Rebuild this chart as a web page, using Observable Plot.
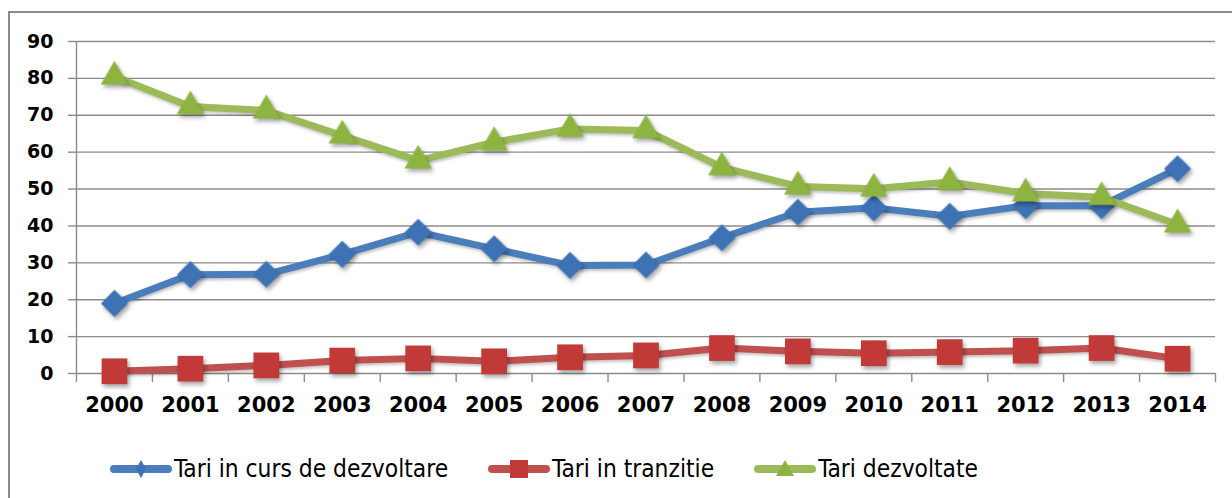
<!DOCTYPE html>
<html><head><meta charset="utf-8">
<script src="https://cdn.jsdelivr.net/npm/d3@7"></script>
<script src="https://cdn.jsdelivr.net/npm/@observablehq/plot@0.6"></script>
<style>
  html,body{margin:0;padding:0;background:#fff;width:1232px;height:498px;overflow:hidden;}
  #frame{position:absolute;left:8px;top:11px;width:1300px;height:600px;border:2px solid #8a8a8a;box-sizing:border-box;}
  #chart{position:absolute;left:0;top:0;}
  #chart svg{overflow:visible;}
  g[aria-label="dot"]{filter:drop-shadow(2px 3px 2px rgba(0,0,0,0.35));}
  g[aria-label="line"]{filter:drop-shadow(1px 2px 1.5px rgba(0,0,0,0.25));}
  #legend{position:absolute;top:454px;left:110px;display:flex;align-items:center;font-family:"DejaVu Sans Condensed","DejaVu Sans",sans-serif;font-stretch:condensed;font-size:24.3px;color:#000;white-space:nowrap;}
  #legend .item{display:flex;align-items:center;}
  #legend svg{display:block;margin-right:2px;}
</style>
</head><body>
<div id="frame"></div>
<div id="chart"></div>
<div id="legend"></div>
<script>
const years = [2000,2001,2002,2003,2004,2005,2006,2007,2008,2009,2010,2011,2012,2013,2014];
const seriesNames = ["Tari in curs de dezvoltare","Tari in tranzitie","Tari dezvoltate"];
const developing = [19.0,26.8,26.9,32.3,38.3,33.8,29.3,29.4,36.8,43.7,44.9,42.6,45.5,45.5,55.5];
const transition = [0.6,1.3,2.2,3.5,4.1,3.3,4.4,4.9,6.9,6.0,5.5,5.8,6.2,6.9,4.0];
const developed = [80.5,72.4,71.3,64.5,57.7,62.7,66.3,65.9,55.9,50.7,50.1,51.9,48.8,47.8,40.4];
const yTicks = [0,10,20,30,40,50,60,70,80,90];

const colors = ["#4a7ebb","#c0504d","#9bbb59"];
const markFill = ["#3d72b5","#c23a37","#8db43f"];
const symbols = ["diamond2","square","triangle"];
const radii = [12.2,14.5,10.2];
const values = [developing, transition, developed];

const tables = values.map((vals,i)=>years.map((y,j)=>({year:y, value:vals[j], series:seriesNames[i]})));
const boundaries = d3.range(years.length+1).map(k=>years[0]-0.5+k);

const font = '"DejaVu Sans",sans-serif';

const marks = [
  Plot.gridY(yTicks,{stroke:"#8c8c8c",strokeOpacity:1,strokeWidth:1.4}),
  Plot.axisY(yTicks,{label:null,tickSize:8,tickPadding:15,stroke:"#8c8c8c",strokeWidth:1.4,fontWeight:"bold",fontSize:19,fill:"#000"}),
  Plot.ruleX([1999.5],{stroke:"#8c8c8c",strokeWidth:1.4}),
  Plot.axisX(boundaries,{label:null,tickSize:9,tickFormat:()=>"",stroke:"#8c8c8c",strokeWidth:1.4}),
  Plot.axisX(years,{label:null,tickSize:0,tickPadding:24,tickFormat:d=>String(d),fontWeight:"bold",fontSize:21,fill:"#000"}),
];
tables.forEach((t,i)=>{
  marks.push(Plot.line(t,{x:"year",y:"value",stroke:colors[i],strokeWidth:7,strokeLinejoin:"round"}));
  marks.push(Plot.dot(t,{x:"year",y:"value",symbol:()=>symbols[i],r:radii[i],fill:markFill[i],stroke:"none"}));
});

const plot = Plot.plot({
  width:1232, height:430,
  marginLeft:76, marginRight:17, marginTop:41, marginBottom:57,
  style:{fontFamily:font, background:"transparent", overflow:"visible"},
  x:{domain:[1999.5,2014.5], axis:null},
  y:{domain:[0,90], axis:null},
  symbol:{type:"identity"},
  marks
});
document.getElementById("chart").appendChild(plot);

// legend
const legend = d3.select("#legend");
const legendSyms = [
  s=>s.append("path").attr("d","M31,3 L36,12 L31,21 L26,12 Z"),
  s=>s.append("rect").attr("x",22).attr("y",3).attr("width",18).attr("height",18),
  s=>s.append("path").attr("d","M31,3 L40,19 L22,19 Z")
];
const gaps = [40, 40, 0];
seriesNames.forEach((name,i)=>{
  const item = legend.append("div").attr("class","item").style("margin-right",gaps[i]+"px");
  const svg = item.append("svg").attr("width",62).attr("height",24);
  svg.append("line").attr("x1",4).attr("x2",58).attr("y1",12).attr("y2",12)
     .attr("stroke",colors[i]).attr("stroke-width",8).attr("stroke-linecap","round");
  legendSyms[i](svg).attr("fill",markFill[i]);
  item.append("span").text(name);
});
</script>
</body></html>
